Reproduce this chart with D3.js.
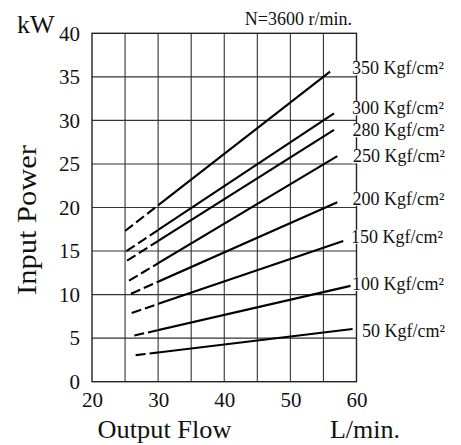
<!DOCTYPE html>
<html>
<head>
<meta charset="utf-8">
<script src="https://cdn.jsdelivr.net/npm/d3@7"></script>
<style>
  html, body { margin: 0; padding: 0; background: #fff; }
  svg { display: block; font-family: "Liberation Serif", "Times New Roman", serif; }
</style>
</head>
<body>
<svg id="chart" width="461" height="445"></svg>
<script>
// Pump input power vs. output flow at N=3600 r/min, one line per discharge pressure
const pressureLabels = ["350 Kgf/cm²", "300 Kgf/cm²", "280 Kgf/cm²", "250 Kgf/cm²",
                        "200 Kgf/cm²", "150 Kgf/cm²", "100 Kgf/cm²", "50 Kgf/cm²"];
const flowStart  = [25.0, 25.2, 25.3, 25.6, 25.9, 26.0, 26.4, 26.6];
const powerStart = [17.3, 15.0, 13.9, 11.6, 10.1, 7.9, 5.3, 3.05];
const flowEnd    = [56.0, 56.6, 56.6, 57.1, 57.1, 58.0, 59.1, 59.4];
const powerEnd   = [35.6, 30.8, 28.9, 25.9, 20.6, 16.15, 11.0, 6.05];
const dashedUntilFlow = 30;   // extrapolated (dashed) range below this flow

const xTicks = [20, 30, 40, 50, 60];
const yTicks = [0, 5, 10, 15, 20, 25, 30, 35, 40];
const xGrid  = [25, 30, 35, 40, 45, 50, 55];
const yGrid  = [5, 10, 15, 20, 25, 30, 35];

const svg = d3.select("#chart");
const plotLeft = 92, plotRight = 356.5, plotTop = 33.3, plotBottom = 381.7;

const x = d3.scaleLinear().domain([20, 60]).range([plotLeft, plotRight]);
const y = d3.scaleLinear().domain([0, 40]).range([plotBottom, plotTop]);

// grid
const grid = svg.append("g").attr("stroke", "#333").attr("stroke-width", 1.1);
grid.selectAll("line.v").data(xGrid).join("line").attr("class", "v")
  .attr("x1", d => x(d)).attr("x2", d => x(d))
  .attr("y1", plotTop).attr("y2", plotBottom);
grid.selectAll("line.h").data(yGrid).join("line").attr("class", "h")
  .attr("x1", plotLeft).attr("x2", plotRight)
  .attr("y1", d => y(d)).attr("y2", d => y(d));

// frame
svg.append("rect")
  .attr("x", plotLeft).attr("y", plotTop)
  .attr("width", plotRight - plotLeft).attr("height", plotBottom - plotTop)
  .attr("fill", "none").attr("stroke", "#222").attr("stroke-width", 1.4);

// tick labels via axes (no tick marks)
const yAxis = d3.axisLeft(y).tickValues(yTicks).tickSize(0).tickPadding(12);
svg.append("g").attr("transform", `translate(${plotLeft},0)`).call(yAxis)
  .call(g => g.select(".domain").remove())
  .call(g => g.selectAll("text")
    .attr("font-family", "Liberation Serif, serif")
    .attr("font-size", 21).attr("fill", "#111"));

const xAxis = d3.axisBottom(x).tickValues(xTicks).tickSize(0).tickPadding(10);
svg.append("g").attr("transform", `translate(0,${plotBottom})`).call(xAxis)
  .call(g => g.select(".domain").remove())
  .call(g => g.selectAll("text")
    .attr("font-family", "Liberation Serif, serif")
    .attr("font-size", 21).attr("fill", "#111"));

// clip regions: dashed (extrapolated) part and solid part
const defs = svg.append("defs");
defs.append("clipPath").attr("id", "clipDash").append("rect")
  .attr("x", 0).attr("y", 0).attr("width", x(dashedUntilFlow)).attr("height", 445);
defs.append("clipPath").attr("id", "clipSolid").append("rect")
  .attr("x", x(dashedUntilFlow)).attr("y", 0).attr("width", 461).attr("height", 445);

const series = pressureLabels.map((label, i) => ({
  label,
  pts: [[flowStart[i], powerStart[i]], [flowEnd[i], powerEnd[i]]]
}));
const line = d3.line().x(d => x(d[0])).y(d => y(d[1]));

const lines = svg.append("g").attr("fill", "none").attr("stroke", "#000").attr("stroke-width", 2.1);
lines.selectAll("path.dash").data(series).join("path").attr("class", "dash")
  .attr("clip-path", "url(#clipDash)")
  .attr("stroke-dasharray", "10,4")
  .attr("d", d => line(d.pts));
lines.selectAll("path.solid").data(series).join("path").attr("class", "solid")
  .attr("clip-path", "url(#clipSolid)")
  .attr("d", d => line(d.pts));

// pressure labels with white backing (they sit over the right frame edge)
const labelY = [68, 108, 130, 156, 198.5, 236.5, 283.5, 331];
const labelX = [352, 352, 352.5, 353, 352.5, 351, 352, 362];
const labels = svg.append("g")
  .attr("font-family", "Liberation Serif, serif")
  .attr("font-size", 18).attr("fill", "#111");
series.forEach((s, i) => {
  const t = labels.append("text")
    .attr("x", labelX[i]).attr("y", labelY[i]).attr("dy", "0.35em")
    .text(s.label);
  const bb = t.node().getBBox();
  labels.insert("rect", "text")
    .attr("x", bb.x - 1).attr("y", bb.y + 3)
    .attr("width", bb.width + 2).attr("height", bb.height - 6)
    .attr("fill", "#fff");
});

// titles and units
svg.append("text").attr("x", 17).attr("y", 33).attr("font-size", 26).attr("fill", "#111").text("kW");
svg.append("text").attr("x", 352).attr("y", 24.5).attr("text-anchor", "end")
  .attr("font-size", 18).attr("fill", "#111").text("N=3600 r/min.");
svg.append("text").attr("x", 164.5).attr("y", 438).attr("text-anchor", "middle")
  .attr("font-size", 25.5).attr("textLength", 134).attr("lengthAdjust", "spacingAndGlyphs")
  .attr("fill", "#111").text("Output Flow");
svg.append("text").attr("x", 365).attr("y", 438).attr("text-anchor", "middle")
  .attr("font-size", 26).attr("fill", "#111").text("L/min.");
svg.append("text")
  .attr("transform", "translate(36,220) rotate(-90)")
  .attr("text-anchor", "middle")
  .attr("font-size", 27).attr("textLength", 150).attr("lengthAdjust", "spacingAndGlyphs")
  .attr("fill", "#111").text("Input Power");
</script>
</body>
</html>
